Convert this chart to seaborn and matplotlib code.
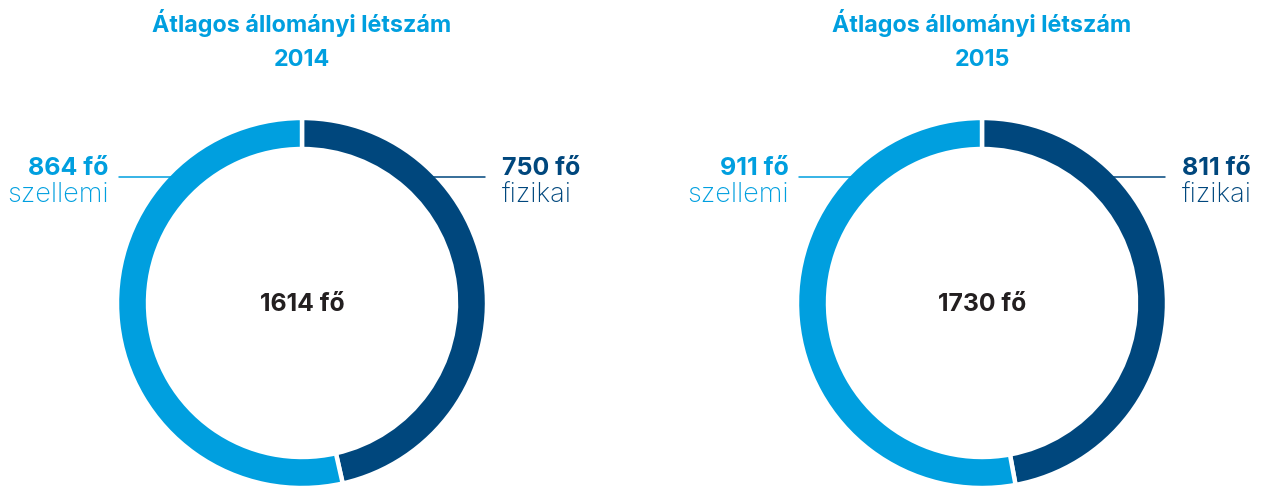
import matplotlib
matplotlib.use("Agg")
import matplotlib.pyplot as plt
import seaborn as sns

# ---- data ----
years = ["2014", "2015"]
fizikai = [750, 811]
szellemi = [864, 911]
totals = [1614, 1730]
title_text = "Átlagos állományi létszám"
cat_fiz = "fizikai"
cat_sz = "szellemi"

sns.set_theme(style="white")
plt.rcParams['font.family'] = ['Inter', 'DejaVu Sans']

DARK = "#00477D"
LIGHT = "#009FDF"
TEXT = "#231F20"

W, H = 1261, 486
fig = plt.figure(figsize=(W / 100, H / 100), dpi=100)
ax = fig.add_axes([0, 0, 1, 1])

def Y(py):
    return H - py

centers_x = [302, 982]
cy = 303
R = 185
RW = 31

for i, cx in enumerate(centers_x):
    ax.pie([fizikai[i], szellemi[i]], colors=[DARK, LIGHT], startangle=90,
           counterclock=False, radius=R, center=(cx, Y(cy)), frame=True,
           wedgeprops=dict(width=RW, edgecolor="white", linewidth=3.2))
    # titles
    ax.text(cx, Y(32), title_text, ha="center", va="baseline", color=LIGHT,
            fontsize=16.8, fontweight="bold")
    ax.text(cx, Y(66), years[i], ha="center", va="baseline", color=LIGHT,
            fontsize=16.8, fontweight="bold")
    # center total
    ax.text(cx, Y(311), f"{totals[i]} fő", ha="center", va="baseline", color=TEXT,
            fontsize=17.8, fontweight="bold")
    # left label (szellemi)
    ax.plot([cx - 183, cx - 125], [Y(177.5), Y(177.5)], color=LIGHT, lw=1.1, zorder=3)
    ax.text(cx - 193, Y(175), f"{szellemi[i]} fő", ha="right", va="baseline",
            color=LIGHT, fontsize=18, fontweight="bold")
    ax.text(cx - 193, Y(202.5), cat_sz, ha="right", va="baseline",
            color=LIGHT, fontsize=19.5, fontweight="light")
    # right label (fizikai)
    ax.plot([cx + 125, cx + 183], [Y(177.5), Y(177.5)], color=DARK, lw=1.1, zorder=3)
    ax.text(cx + 200, Y(175), f"{fizikai[i]} fő", ha="left", va="baseline",
            color=DARK, fontsize=18, fontweight="bold")
    ax.text(cx + 200, Y(202.5), cat_fiz, ha="left", va="baseline",
            color=DARK, fontsize=19.5, fontweight="light")

ax.set_xlim(0, W)
ax.set_ylim(0, H)
ax.set_aspect("equal")
ax.axis("off")

fig.savefig("out.png", dpi=100, facecolor="white")
